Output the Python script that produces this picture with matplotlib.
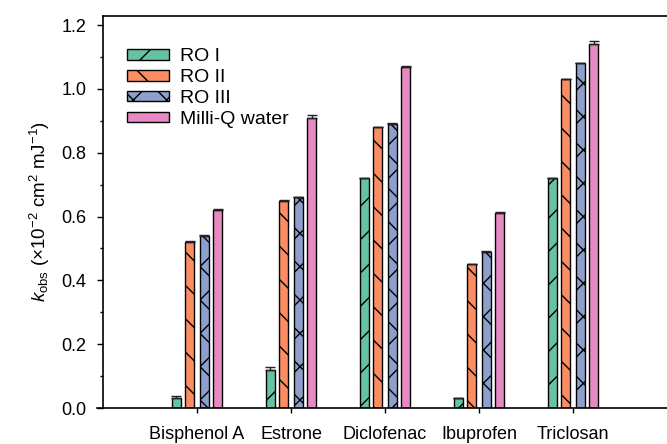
import numpy as np
import matplotlib
matplotlib.use("Agg")
import matplotlib.pyplot as plt
from matplotlib.lines import Line2D

plt.rcParams['font.family'] = ['Liberation Sans', 'DejaVu Sans']
plt.rcParams['mathtext.fontset'] = 'custom'
plt.rcParams['mathtext.rm'] = 'Liberation Sans'
plt.rcParams['mathtext.it'] = 'Liberation Sans:italic'
plt.rcParams['hatch.linewidth'] = 1.0

compounds = ["Bisphenol A", "Estrone", "Diclofenac", "Ibuprofen", "Triclosan"]
series = ["RO I", "RO II", "RO III", "Milli-Q water"]

ro1 = [0.03, 0.12, 0.72, 0.03, 0.72]
ro2 = [0.52, 0.65, 0.88, 0.45, 1.03]
ro3 = [0.54, 0.66, 0.89, 0.49, 1.08]
mq = [0.62, 0.91, 1.07, 0.61, 1.14]

ro1_err = [0.008, 0.007, 0.002, 0.002, 0.002]
ro2_err = [0.002, 0.002, 0.002, 0.002, 0.002]
ro3_err = [0.002, 0.002, 0.002, 0.002, 0.002]
mq_err = [0.005, 0.008, 0.003, 0.003, 0.010]

colors = ["#66c2a5", "#fc8d62", "#8da0cb", "#e78ac3"]
hatches = ["/", "\\", "x", ""]

fig = plt.figure(figsize=(6.67, 4.44), dpi=100)
ax = fig.add_axes([103 / 667, 1 - 408 / 444, 564 / 667, (408 - 15.6) / 444])

x = np.arange(len(compounds))
offsets = [-0.223, -0.075, 0.075, 0.223]
width = 0.096
data = [ro1, ro2, ro3, mq]
errs = [ro1_err, ro2_err, ro3_err, mq_err]

for i in range(4):
    ax.bar(x + offsets[i], data[i], width, color=colors[i], edgecolor="black",
           linewidth=1.0, hatch=hatches[i], label=series[i], zorder=2)
    ax.errorbar(x + offsets[i], data[i],
                yerr=[np.zeros(len(compounds)), errs[i]],
                fmt="none", ecolor="#222222", elinewidth=1.0, capsize=3.5,
                capthick=1.0, zorder=3)

ax.set_xlim(-1, 5)
ax.set_ylim(0, 1.23)
ax.set_xticks(x)
ax.set_xticklabels(compounds)
ax.set_yticks(np.arange(0, 1.21, 0.2))
ax.set_yticklabels(["%.1f" % v for v in np.arange(0, 1.21, 0.2)])
ax.set_yticks(np.arange(0.1, 1.21, 0.2), minor=True)

ax.tick_params(axis="both", labelsize=13, direction="out")
ax.tick_params(axis="y", which="major", length=4.3, width=1, pad=7.5)
ax.tick_params(axis="y", which="minor", length=2.4, width=1)
ax.tick_params(axis="x", length=3.6, width=1, pad=9)

ax.spines["right"].set_visible(False)
for s in ["left", "bottom", "top"]:
    ax.spines[s].set_linewidth(1.2)

# x axis line runs a little past the y axis
ax.add_line(Line2D([-6 / 564, 0], [0, 0], transform=ax.transAxes,
                   color="black", linewidth=1.2, clip_on=False))

ax.set_ylabel(r"$k_{\mathrm{obs}}$ (×10$^{-2}$ cm$^{2}$ mJ$^{-1}$)", fontsize=13.5,
              labelpad=7)

ax.legend(loc="upper left", bbox_to_anchor=(0.042, 0.917), frameon=False,
          fontsize=14, handlelength=2.2, handleheight=0.48,
          handletextpad=0.55, labelspacing=0.2, borderpad=0, borderaxespad=0)

fig.savefig("out.png", dpi=100)
